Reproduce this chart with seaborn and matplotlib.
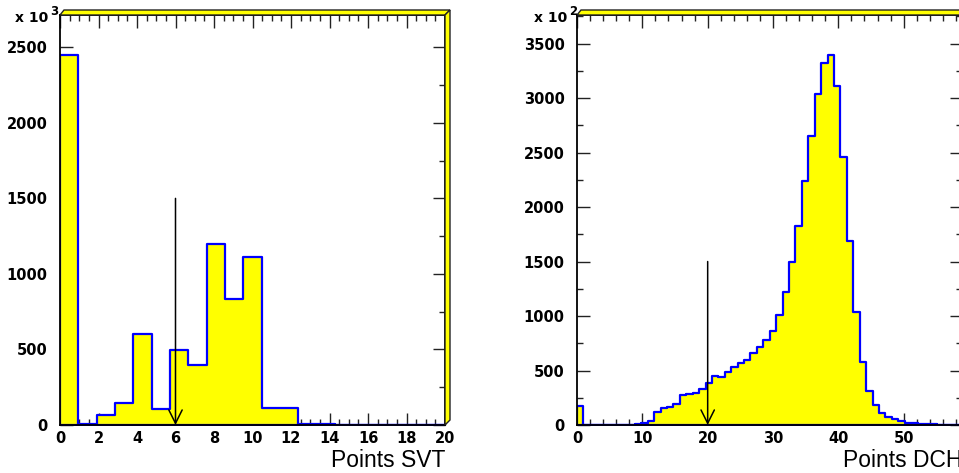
import numpy as np
import pandas as pd
import matplotlib
matplotlib.use("Agg")
import matplotlib.pyplot as plt
import seaborn as sns
from matplotlib.patches import Polygon
from matplotlib.ticker import MultipleLocator

# ---------------- data ----------------
svt_counts = [2450, 8, 64, 146, 604, 108, 496, 400, 1195, 833, 1113,
              110, 115, 8, 8, 2, 2, 2, 1, 1, 1]
svt_range = (0, 20)
svt_cut = 6

dch_counts = [177, 1, 1, 1, 1, 2, 2, 3, 4, 6,
              15, 40, 116, 153, 162, 196, 275, 284, 290, 330,
              385, 449, 440, 483, 535, 566, 596, 657, 718, 779,
              862, 1009, 1217, 1498, 1825, 2237, 2656, 3041, 3326, 3396,
              3115, 2461, 1690, 1033, 581, 315, 183, 107, 76, 52,
              34, 21, 15, 10, 8, 5, 4, 3, 2, 2]
dch_range = (0, 59)
dch_cut = 20

arrow_top = 1500

W, H = 959, 473
sns.set_style("ticks")
plt.rcParams["font.family"] = ["DejaVu Sans"]
plt.rcParams["text.color"] = "black"

fig = plt.figure(figsize=(W / 100, H / 100), dpi=100)
fig.patch.set_facecolor("white")


def fx(px):
    return px / W


def fy(py):
    return 1 - py / H


def panel(left, right, top, bottom, counts, xr, ylim, cut, xmaj, xmin,
          label, exp_txt, exp_x):
    ax = fig.add_axes([fx(left), fy(bottom), fx(right) - fx(left), fy(top) - fy(bottom)])
    n = len(counts)
    edges = np.linspace(xr[0], xr[1], n + 1)
    df = pd.DataFrame({"x": 0.5 * (edges[:-1] + edges[1:]),
                       "w": np.asarray(counts, dtype=float)})
    sns.histplot(data=df, x="x", weights="w", bins=n, binrange=xr,
                 element="step", fill=True, color="#ffff00",
                 edgecolor="#0000ff", linewidth=1.6, alpha=1, ax=ax)
    ax.set_xlim(*xr)
    ax.set_ylim(0, ylim)
    ax.set_xlabel("")
    ax.set_ylabel("")
    ax.xaxis.set_major_locator(MultipleLocator(xmaj))
    ax.xaxis.set_minor_locator(MultipleLocator(xmin))
    ax.yaxis.set_major_locator(MultipleLocator(500))
    ax.yaxis.set_minor_locator(MultipleLocator(250))
    ax.tick_params(which="both", direction="in", top=True, right=True,
                   color="#222222", width=1, labelcolor="black")
    ax.tick_params(which="major", length=9, labelsize=10.5, pad=4)
    ax.tick_params(which="minor", length=4)
    ax.tick_params(axis="y", which="major", pad=9)
    for t in ax.get_xticklabels() + ax.get_yticklabels():
        t.set_fontweight("bold")
    for s in ax.spines.values():
        s.set_color("black")
        s.set_linewidth(1.3)
        s.set_visible(True)
        s.set_zorder(4)
    ax.annotate("", xy=(cut, 0), xytext=(cut, arrow_top),
                arrowprops=dict(arrowstyle="->", color="black", lw=1.1,
                                mutation_scale=24, shrinkA=0, shrinkB=0),
                zorder=5)
    ax.text(1.0, -(467 - bottom) / (bottom - top), label, transform=ax.transAxes,
            ha="right", va="baseline", fontsize=16.5, color="black",
            family=["Liberation Sans", "DejaVu Sans"])
    # 3D-like yellow frame on top and right
    d_x, d_y = 5, 5
    top_band = [(fx(left), fy(top)), (fx(left + d_x - 1), fy(top - d_y)),
                (fx(right + d_x), fy(top - d_y)), (fx(right), fy(top))]
    right_band = [(fx(right), fy(top)), (fx(right + d_x), fy(top - d_y)),
                  (fx(right + d_x), fy(bottom - d_y)), (fx(right), fy(bottom))]
    for pts in (top_band, right_band):
        fig.patches.append(Polygon(pts, closed=True, facecolor="#ffff00",
                                   edgecolor="#222222", linewidth=1.0,
                                   transform=fig.transFigure, figure=fig))
    # exponent text
    fig.text(fx(exp_x), fy(22), "x 10", ha="left", va="baseline",
             fontsize=10, fontweight="bold", color="black")
    fig.text(fx(exp_x + 35), fy(15), exp_txt, ha="left", va="baseline",
             fontsize=8.5, fontweight="bold", color="black")
    return ax


panel(60, 445, 15, 425, svt_counts, svt_range, 2714, svt_cut, 2, 0.5,
      "Points SVT", "3", 15)
panel(577, 962.5, 15, 425, dch_counts, dch_range, 3762, dch_cut, 10, 2,
      "Points DCH", "2", 534)

fig.savefig("out.png", dpi=100)
